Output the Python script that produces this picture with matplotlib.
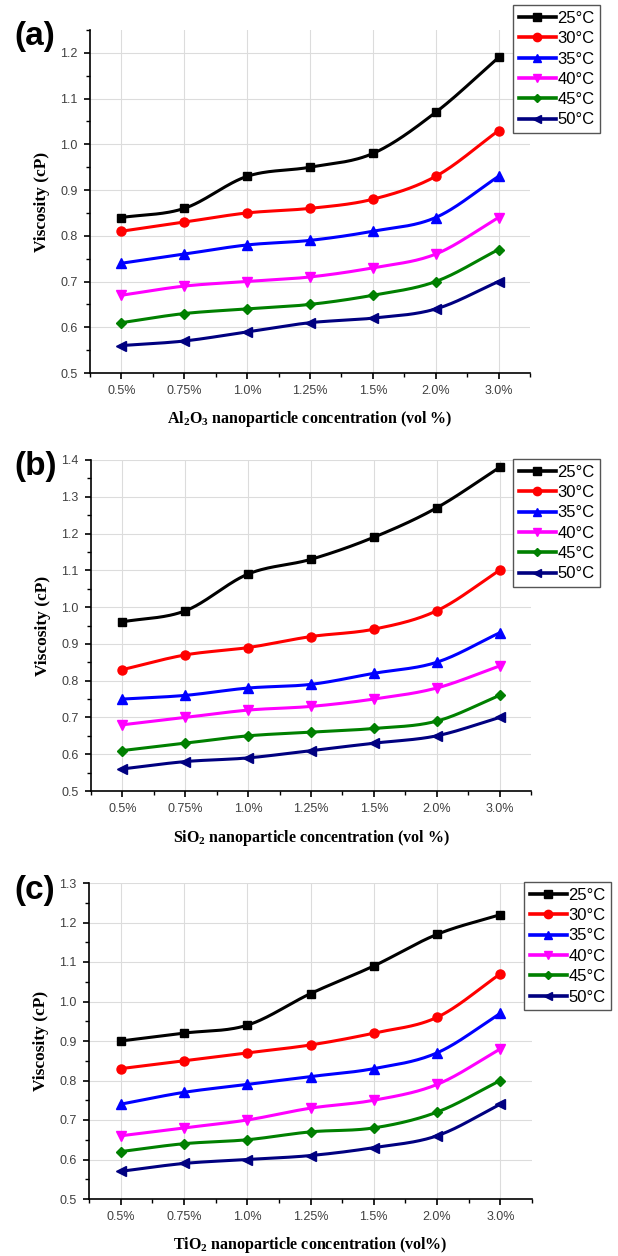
import numpy as np
import matplotlib
matplotlib.use('agg')
import matplotlib.pyplot as plt
from matplotlib.ticker import MultipleLocator, FormatStrFormatter

plt.rcParams['font.family'] = ['Liberation Sans', 'DejaVu Sans']
plt.rcParams['mathtext.fontset'] = 'custom'
plt.rcParams['mathtext.rm'] = 'Liberation Serif:bold'
plt.rcParams['mathtext.it'] = 'Liberation Serif:bold'
plt.rcParams['mathtext.bf'] = 'Liberation Serif:bold'

# categorie (concentrazione) e temperature
concentrazioni = ['0.5%', '0.75%', '1.0%', '1.25%', '1.5%', '2.0%', '3.0%']
temperature = ['25°C', '30°C', '35°C', '40°C', '45°C', '50°C']

# viscosita (cP) - pannello (a) Al2O3
al2o3_25 = [0.84, 0.86, 0.93, 0.95, 0.98, 1.07, 1.19]
al2o3_30 = [0.81, 0.83, 0.85, 0.86, 0.88, 0.93, 1.03]
al2o3_35 = [0.74, 0.76, 0.78, 0.79, 0.81, 0.84, 0.93]
al2o3_40 = [0.67, 0.69, 0.70, 0.71, 0.73, 0.76, 0.84]
al2o3_45 = [0.61, 0.63, 0.64, 0.65, 0.67, 0.70, 0.77]
al2o3_50 = [0.56, 0.57, 0.59, 0.61, 0.62, 0.64, 0.70]

# pannello (b) SiO2
sio2_25 = [0.96, 0.99, 1.09, 1.13, 1.19, 1.27, 1.38]
sio2_30 = [0.83, 0.87, 0.89, 0.92, 0.94, 0.99, 1.10]
sio2_35 = [0.75, 0.76, 0.78, 0.79, 0.82, 0.85, 0.93]
sio2_40 = [0.68, 0.70, 0.72, 0.73, 0.75, 0.78, 0.84]
sio2_45 = [0.61, 0.63, 0.65, 0.66, 0.67, 0.69, 0.76]
sio2_50 = [0.56, 0.58, 0.59, 0.61, 0.63, 0.65, 0.70]

# pannello (c) TiO2
tio2_25 = [0.90, 0.92, 0.94, 1.02, 1.09, 1.17, 1.22]
tio2_30 = [0.83, 0.85, 0.87, 0.89, 0.92, 0.96, 1.07]
tio2_35 = [0.74, 0.77, 0.79, 0.81, 0.83, 0.87, 0.97]
tio2_40 = [0.66, 0.68, 0.70, 0.73, 0.75, 0.79, 0.88]
tio2_45 = [0.62, 0.64, 0.65, 0.67, 0.68, 0.72, 0.80]
tio2_50 = [0.57, 0.59, 0.60, 0.61, 0.63, 0.66, 0.74]

colori = ['black', 'red', 'blue', 'magenta', '#008000', '#000080']
marker = ['s', 'o', '^', 'v', 'D', '<']
msize = [6, 6.5, 6.5, 6.5, 5, 6.5]


def curva_liscia(x, y, n=30):
    # spline Catmull-Rom per disegnare la linea morbida tra i punti
    x = np.asarray(x, float)
    y = np.asarray(y, float)
    xs, ys = [], []
    for i in range(len(x) - 1):
        x0, x1 = x[i], x[i + 1]
        y0, y1 = y[i], y[i + 1]
        m0 = (y[i + 1] - y[i - 1]) / 2 if i > 0 else (y1 - y0)
        m1 = (y[i + 2] - y[i]) / 2 if i + 2 < len(x) else (y1 - y0)
        t = np.linspace(0, 1, n)
        h00 = 2 * t**3 - 3 * t**2 + 1
        h10 = t**3 - 2 * t**2 + t
        h01 = -2 * t**3 + 3 * t**2
        h11 = t**3 - t**2
        xs.append(x0 + t * (x1 - x0))
        ys.append(h00 * y0 + h10 * m0 + h01 * y1 + h11 * m1)
    return np.concatenate(xs), np.concatenate(ys)


pannelli = [
    {'serie': [al2o3_25, al2o3_30, al2o3_35, al2o3_40, al2o3_45, al2o3_50],
     'ylim': (0.5, 1.25), 'pos': (90, 30, 530, 373), 'lab': '(a)',
     'xlabel': r'Al$_{2}$O$_{3}$ nanoparticle concentration (vol %)',
     'xlab_y': 419, 'leg': (513, 5)},
    {'serie': [sio2_25, sio2_30, sio2_35, sio2_40, sio2_45, sio2_50],
     'ylim': (0.5, 1.4), 'pos': (91, 460, 531, 791), 'lab': '(b)',
     'xlabel': r'SiO$_{2}$ nanoparticle concentration (vol %)',
     'xlab_y': 838, 'leg': (513, 459)},
    {'serie': [tio2_25, tio2_30, tio2_35, tio2_40, tio2_45, tio2_50],
     'ylim': (0.5, 1.3), 'pos': (89, 883, 532, 1199), 'lab': '(c)',
     'xlabel': r'TiO$_{2}$ nanoparticle concentration (vol%)',
     'xlab_y': 1245, 'leg': (524, 882)},
]

W, H = 618, 1256
fig = plt.figure(figsize=(W / 100, H / 100), dpi=100)

x = np.arange(len(concentrazioni))

for p in pannelli:
    l, t, r, b = p['pos']
    ax = fig.add_axes([l / W, 1 - b / H, (r - l) / W, (b - t) / H])
    handles = []
    for k, serie in enumerate(p['serie']):
        xs, ys = curva_liscia(x, serie)
        ax.plot(xs, ys, color=colori[k], lw=2.2, zorder=3)
        ax.plot(x, serie, linestyle='none', marker=marker[k], ms=msize[k],
                color=colori[k], zorder=4)
        h, = ax.plot([], [], color=colori[k], lw=2.6, marker=marker[k],
                     ms=msize[k] - 0.5, label=temperature[k])
        handles.append(h)

    ax.set_xlim(-0.5, len(concentrazioni) - 0.5)
    ax.set_ylim(*p['ylim'])
    ax.set_xticks(x)
    ax.set_xticklabels(concentrazioni)
    ax.xaxis.set_minor_locator(MultipleLocator(0.5))
    ax.yaxis.set_major_locator(MultipleLocator(0.1))
    ax.yaxis.set_minor_locator(MultipleLocator(0.05))
    ax.yaxis.set_major_formatter(FormatStrFormatter('%.1f'))
    ax.grid(True, which='major', color='#dcdcdc', lw=0.8, zorder=0)
    ax.set_axisbelow(True)
    for s in ['top', 'right']:
        ax.spines[s].set_visible(False)
    for s in ['left', 'bottom']:
        ax.spines[s].set_linewidth(1.2)
    ax.tick_params(which='major', length=4, width=1.2, labelsize=9,
                   labelcolor='#404040', pad=5)
    ax.tick_params(which='minor', length=3, width=1.0)

    ax.set_ylabel('Viscosity (cP)', family='Liberation Serif',
                  fontweight='bold', fontsize=12.5, labelpad=7)
    fig.text(0.5 * (l + r) / W, 1 - p['xlab_y'] / H, p['xlabel'],
             family='Liberation Serif', fontweight='bold', fontsize=11.5,
             ha='center', va='center')
    fig.text(14 / W, 1 - (t + 7) / H, p['lab'], fontsize=24,
             fontweight='bold', ha='left', va='center')

    lx, ly = p['leg']
    leg = ax.legend(handles=handles, loc='upper left',
                    bbox_to_anchor=(lx / W, 1 - ly / H),
                    bbox_transform=fig.transFigure, fontsize=12,
                    frameon=True, fancybox=False, edgecolor='#555555',
                    framealpha=1, borderpad=0.35, labelspacing=0.32,
                    handlelength=2.2, handletextpad=0.1, borderaxespad=0)
    leg.get_frame().set_linewidth(1.0)

fig.savefig('out.png', dpi=100)
